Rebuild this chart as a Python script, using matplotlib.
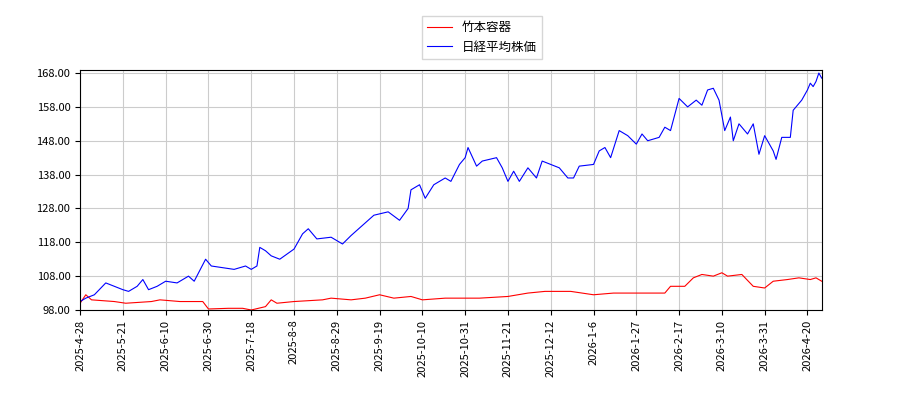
import matplotlib
matplotlib.use("Agg")
import matplotlib.pyplot as plt

plt.rcParams['font.family'] = ['Noto Sans CJK JP', 'DejaVu Sans']

# ── Data (trading-day index, value) ──
tick_labels = ["2025-4-28", "2025-5-21", "2025-6-10", "2025-6-30", "2025-7-18", "2025-8-8",
               "2025-8-29", "2025-9-19", "2025-10-10", "2025-10-31", "2025-11-21", "2025-12-12",
               "2026-1-6", "2026-1-27", "2026-2-17", "2026-3-10", "2026-3-31", "2026-4-20"]

nikkei_x = [0, 2, 5, 9, 12, 15, 17, 20, 22, 24, 27, 30, 34, 38, 40, 44, 46, 50, 54, 58, 60, 62,
            63, 65, 67, 70, 75, 78, 80, 83, 88, 92, 95, 99, 103, 108, 112, 115, 116, 119, 121,
            124, 128, 130, 133, 135, 136, 139, 141, 146, 148, 150, 152, 154, 157, 160, 162, 165,
            168, 171, 173, 175, 180, 182, 184, 186, 189, 192, 195, 197, 199, 203, 205, 207, 210,
            213, 216, 218, 220, 222, 224, 226, 228, 229, 231, 234, 236, 238, 240, 243, 244, 246,
            249, 250, 253, 255, 256, 257, 258, 259, 260]
nikkei = [100.5, 101.5, 102.5, 106, 105, 104, 103.5, 105, 107, 104, 105, 106.5, 106, 108, 106.5,
          113, 111, 110.5, 110, 111, 110, 111, 116.5, 115.5, 114, 113, 116, 120.5, 122, 119,
          119.5, 117.5, 120, 123, 126, 127, 124.5, 128, 133.5, 135, 131, 135, 137, 136, 141,
          143, 146, 140.5, 142, 143, 140, 136, 139, 136, 140, 137, 142, 141, 140, 137, 137,
          140.5, 141, 145, 146, 143, 151, 149.5, 147, 150, 148, 149, 152, 151, 160.5, 158, 160,
          158.5, 163, 163.5, 160, 151, 155, 148, 153, 150, 153, 144, 149.5, 145, 142.5, 149,
          149, 157, 160, 163, 165, 164, 165.5, 168, 166.5]

takemoto_x = [0, 2, 4, 12, 16, 25, 28, 35, 43, 45, 52, 57, 60, 65, 67, 69, 75, 85, 88, 95, 100,
              105, 110, 116, 120, 128, 140, 150, 157, 163, 172, 180, 187, 200, 205, 207, 212,
              215, 218, 222, 225, 227, 232, 236, 240, 243, 248, 252, 256, 258, 260]
takemoto = [100, 102.5, 101, 100.5, 100, 100.5, 101, 100.5, 100.5, 98.3, 98.5, 98.5, 98, 99,
            101, 100, 100.5, 101, 101.5, 101, 101.5, 102.5, 101.5, 102, 101, 101.5, 101.5, 102,
            103, 103.5, 103.5, 102.5, 103, 103, 103, 105, 105, 107.5, 108.5, 108, 109, 108,
            108.5, 105, 104.5, 106.5, 107, 107.5, 107, 107.5, 106.5]

# ── Plot ──
fig = plt.figure(figsize=(9, 4), dpi=100)
ax = fig.add_axes([0.089, 0.225, 0.824, 0.6])
ax.plot(takemoto_x, takemoto, color="red", lw=0.8, label="竹本容器")
ax.plot(nikkei_x, nikkei, color="blue", lw=0.8, label="日経平均株価")
ax.set_xlim(0, 260)
ax.set_ylim(98, 168.9)
ax.set_yticks([98 + 10 * i for i in range(8)])
ax.set_yticklabels([f"{98 + 10 * i:.2f}" for i in range(8)], fontsize=8)
ax.set_xticks(range(0, 256, 15))
ax.set_xticklabels(tick_labels, rotation=90, fontsize=8)
ax.grid(True, color="#cccccc", lw=0.8)
fig.legend(loc="upper center", bbox_to_anchor=(0.535, 0.975), fontsize=9, fancybox=False)
plt.savefig("out.png", dpi=100)
